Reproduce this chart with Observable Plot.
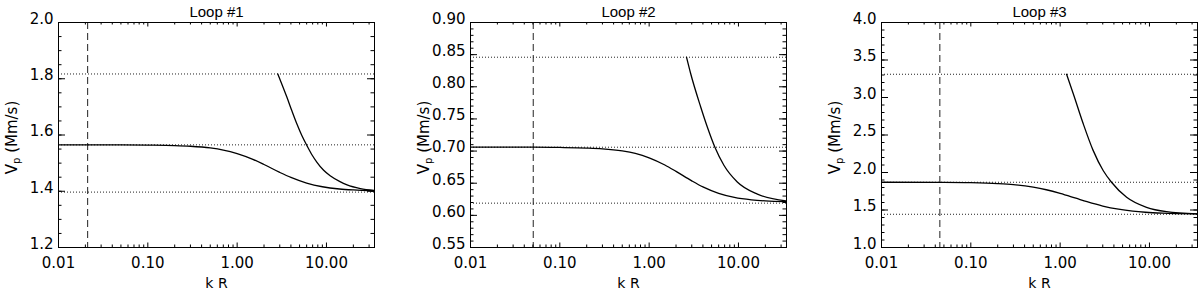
<!DOCTYPE html>
<html><head><meta charset="utf-8">
<script src="https://cdn.jsdelivr.net/npm/d3@7"></script>
<script src="https://cdn.jsdelivr.net/npm/@observablehq/plot@0.6"></script>
<style>
body{margin:0;background:#fff;}
#wrap{position:relative;width:1200px;height:289px;overflow:hidden;background:#fff;}
.panel{position:absolute;top:0;}
</style></head><body><div id="wrap"></div>
<script>
// ---- shared ----
const titles = ["Loop #1", "Loop #2", "Loop #3"];
const xLabel = "k R";
const yLabelMain = "V", yLabelSub = "p", yLabelUnit = " (Mm/s)";
const xMajorTicks = [0.01, 0.1, 1, 10];
const xDomain = [0.01, 34.5];

// ---- Loop #1 ----
const kR1Lower = [0.01, 0.05, 0.1, 0.2, 0.3, 0.5, 0.7, 1.0, 1.5, 2.0, 3.0, 4.0, 6.0, 9.0, 14, 20, 34.5];
const V1Lower  = [1.565, 1.565, 1.5642, 1.5625, 1.560, 1.554, 1.5466, 1.534, 1.5135, 1.495, 1.467, 1.449, 1.429, 1.416, 1.408, 1.4046, 1.4018];
const kR1Upper = [2.85, 3.2, 3.61, 4.1, 4.67, 5.3, 6.05, 6.9, 7.83, 9.3, 11.0, 14, 17.0, 24, 34.5];
const V1Upper  = [1.817, 1.777, 1.734, 1.686, 1.639, 1.598, 1.562, 1.529, 1.503, 1.4745, 1.455, 1.435, 1.4225, 1.4095, 1.403];
const hLines1 = [1.817, 1.565, 1.397];
const vLine1 = [0.0212];
const yDomain1 = [1.2, 2.0];
const yMajor1 = [1.2, 1.4, 1.6, 1.8, 2.0];

// ---- Loop #2 ----
const kR2Lower = [0.01, 0.05, 0.1, 0.2, 0.3, 0.5, 0.7, 1.0, 1.5, 2.0, 3.0, 4.0, 6.0, 9.0, 14, 20, 34.5];
const V2Lower  = [0.706, 0.706, 0.7056, 0.7047, 0.7035, 0.7002, 0.6963, 0.6895, 0.6783, 0.6684, 0.6537, 0.6443, 0.6343, 0.628, 0.6242, 0.6225, 0.6213];
const kR2Upper = [2.62, 2.91, 3.77, 4.48, 5.45, 6.87, 9.7, 16.3, 34.5];
const V2Upper  = [0.846, 0.821, 0.769, 0.7375, 0.706, 0.678, 0.652, 0.633, 0.6225];
const hLines2 = [0.846, 0.706, 0.619];
const vLine2 = [0.0504];
const yDomain2 = [0.55, 0.90];
const yMajor2 = [0.55, 0.60, 0.65, 0.70, 0.75, 0.80, 0.85, 0.90];

// ---- Loop #3 ----
const kR3Lower = [0.01, 0.05, 0.1, 0.2, 0.3, 0.5, 0.7, 1.0, 1.5, 2.0, 3.0, 4.5, 6.5, 9.0, 14, 20, 34.5];
const V3Lower  = [1.87, 1.868, 1.864, 1.852, 1.838, 1.8045, 1.770, 1.722, 1.6575, 1.611, 1.553, 1.5105, 1.4847, 1.4699, 1.458, 1.4525, 1.4483];
const kR3Upper = [1.18, 1.40, 1.81, 2.34, 3.03, 3.76, 5.55, 9.27, 15.5, 34.5];
const V3Upper  = [3.31, 3.054, 2.653, 2.295, 2.027, 1.87, 1.67, 1.536, 1.478, 1.449];
const hLines3 = [3.31, 1.87, 1.443];
const vLine3 = [0.045];
const yDomain3 = [1.0, 4.0];
const yMajor3 = [1.0, 1.5, 2.0, 2.5, 3.0, 3.5, 4.0];

const panels = [
  {title: titles[0], lower: [kR1Lower, V1Lower], upper: [kR1Upper, V1Upper], h: hLines1, v: vLine1, yDomain: yDomain1, yMajor: yMajor1, yMinorStep: 0.05, yFmt: ".1f", left: 0},
  {title: titles[1], lower: [kR2Lower, V2Lower], upper: [kR2Upper, V2Upper], h: hLines2, v: vLine2, yDomain: yDomain2, yMajor: yMajor2, yMinorStep: 0.01, yFmt: ".2f", left: 411.7},
  {title: titles[2], lower: [kR3Lower, V3Lower], upper: [kR3Upper, V3Upper], h: hLines3, v: vLine3, yDomain: yDomain3, yMajor: yMajor3, yMinorStep: 0.1, yFmt: ".1f", left: 823.4}
];

const W = 376, H = 289, mL = 58, mR = 2, mT = 22, mB = 42;
const fw = W - mL - mR, fh = H - mT - mB;
const xMinor = [];
for (const d of [0.01, 0.1, 1, 10]) for (let m = 2; m <= 9; m++) if (d * m <= xDomain[1]) xMinor.push(+(d * m).toPrecision(3));

const wrap = document.getElementById("wrap");
for (const p of panels) {
  const toPts = ([xs, ys]) => xs.map((x, i) => ({x, y: ys[i]}));
  const yMinor = d3.range(p.yDomain[0], p.yDomain[1] + 1e-9, p.yMinorStep).map(v => +v.toFixed(4));
  const xMajLen = 4.5, xMinLen = 2.5, yMajLen = 7, yMinLen = 3.5;
  const chart = Plot.plot({
    width: W, height: H,
    marginLeft: mL, marginRight: mR, marginTop: mT, marginBottom: mB,
    style: {fontFamily: "DejaVu Sans", fontSize: "15px", background: "white", color: "black"},
    x: {type: "log", domain: xDomain},
    y: {domain: p.yDomain},
    marks: [
      Plot.ruleY(p.h, {stroke: "#222", strokeWidth: 1, strokeDasharray: "1,2"}),
      Plot.ruleX(p.v, {stroke: "#222", strokeWidth: 1, strokeDasharray: "7,4"}),
      Plot.line(toPts(p.lower), {x: "x", y: "y", stroke: "black", strokeWidth: 1.3, curve: "monotone-x", clip: true}),
      Plot.line(toPts(p.upper), {x: "x", y: "y", stroke: "black", strokeWidth: 1.3, curve: "monotone-x", clip: true}),
      // inward ticks, x bottom & top
      Plot.tickX(xMajorTicks, {x: d => d, insetTop: fh - xMajLen, stroke: "black"}),
      Plot.tickX(xMajorTicks, {x: d => d, insetBottom: fh - xMajLen, stroke: "black"}),
      Plot.tickX(xMinor, {x: d => d, insetTop: fh - xMinLen, stroke: "black"}),
      Plot.tickX(xMinor, {x: d => d, insetBottom: fh - xMinLen, stroke: "black"}),
      // inward ticks, y left & right
      Plot.tickY(p.yMajor, {y: d => d, insetRight: fw - yMajLen, stroke: "black"}),
      Plot.tickY(p.yMajor, {y: d => d, insetLeft: fw - yMajLen, stroke: "black"}),
      Plot.tickY(yMinor, {y: d => d, insetRight: fw - yMinLen, stroke: "black"}),
      Plot.tickY(yMinor, {y: d => d, insetLeft: fw - yMinLen, stroke: "black"}),
      Plot.axisX({ticks: xMajorTicks, tickFormat: d3.format(".2f"), tickSize: 0, tickPadding: 10, label: null, fontSize: 15}),
      Plot.axisY({ticks: p.yMajor, tickFormat: d3.format(p.yFmt), tickSize: 0, tickPadding: 5, label: null, fontSize: 15, dy: -3.5}),
      Plot.frame({stroke: "black", strokeWidth: 1}),
      Plot.text([p.title], {frameAnchor: "top", dy: -5.3, lineAnchor: "bottom", fontSize: 15, fontFamily: "Liberation Sans", text: d => d}),
      Plot.text([xLabel], {frameAnchor: "bottom", dy: 40, lineAnchor: "bottom", fontSize: 14, text: d => d})
    ]
  });
  const div = document.createElement("div");
  div.className = "panel";
  div.style.left = p.left + "px";
  div.appendChild(chart);
  wrap.appendChild(div);
  // y axis label with subscript
  const svg = d3.select(chart);
  const t = svg.append("text")
    .attr("transform", `translate(16.5,${mT + fh / 2 + 3}) rotate(-90)`)
    .attr("text-anchor", "middle")
    .attr("font-family", "DejaVu Sans")
    .attr("font-size", 15)
    .attr("fill", "black");
  t.append("tspan").text(yLabelMain);
  t.append("tspan").attr("font-size", 10).attr("dy", 3).text(yLabelSub);
  t.append("tspan").attr("dy", -3).text(yLabelUnit);
}
</script></body></html>
